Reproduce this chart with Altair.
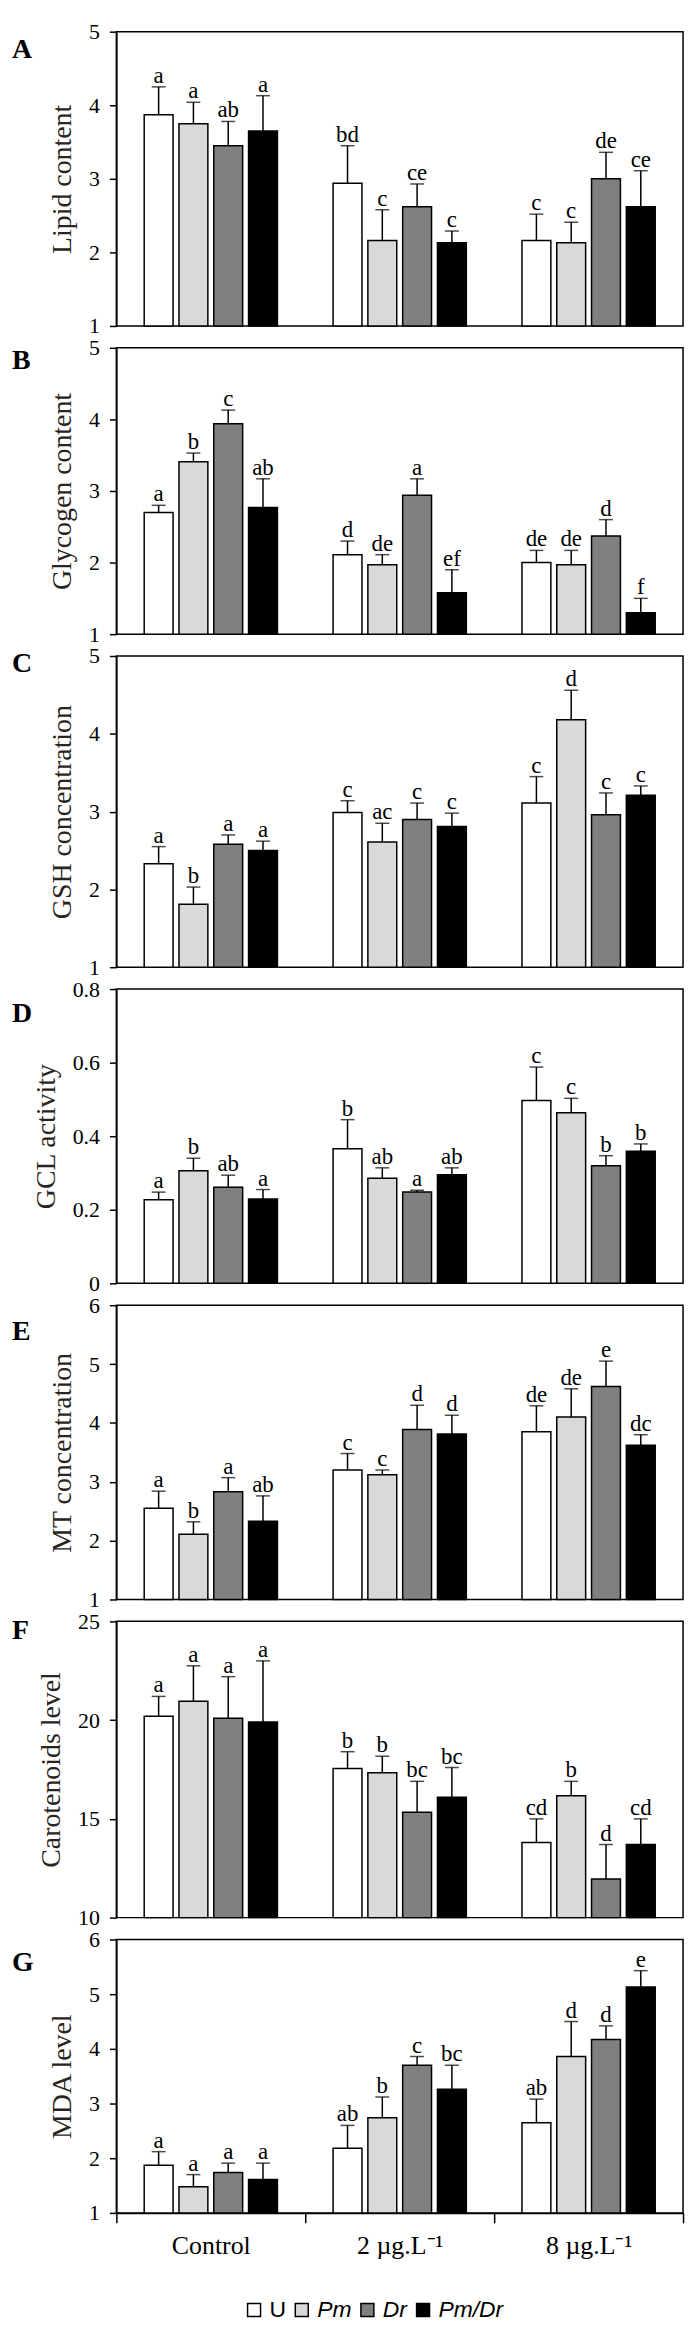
import altair as alt
import pandas as pd

groups = ["Control", "2 µg.L⁻¹", "8 µg.L⁻¹"]
series = ["U", "Pm", "Dr", "Pm/Dr"]
colors = ["#ffffff", "#d9d9d9", "#808080", "#000000"]

# values ordered: Control (U, Pm, Dr, Pm/Dr), 2 µg (…), 8 µg (…)
lipid_mean = [3.87, 3.75, 3.45, 3.65, 2.94, 2.16, 2.62, 2.13, 2.16, 2.13, 3.00, 2.62]
lipid_err = [0.38, 0.29, 0.33, 0.48, 0.51, 0.42, 0.31, 0.16, 0.36, 0.28, 0.36, 0.49]
lipid_lab = ["a", "a", "ab", "a", "bd", "c", "ce", "c", "c", "c", "de", "ce"]

glyco_mean = [2.70, 3.41, 3.94, 2.77, 2.11, 1.97, 2.94, 1.58, 2.00, 1.97, 2.37, 1.30]
glyco_err = [0.10, 0.12, 0.19, 0.40, 0.19, 0.14, 0.23, 0.32, 0.17, 0.20, 0.23, 0.20]
glyco_lab = ["a", "b", "c", "ab", "d", "de", "a", "ef", "de", "de", "d", "f"]

gsh_mean = [2.33, 1.81, 2.58, 2.50, 2.99, 2.61, 2.90, 2.81, 3.11, 4.18, 2.96, 3.21]
gsh_err = [0.22, 0.22, 0.12, 0.12, 0.15, 0.24, 0.21, 0.17, 0.34, 0.38, 0.28, 0.12]
gsh_lab = ["a", "b", "a", "a", "c", "ac", "c", "c", "c", "d", "c", "c"]

gcl_mean = [0.227, 0.306, 0.261, 0.229, 0.366, 0.286, 0.248, 0.295, 0.497, 0.464, 0.320, 0.359]
gcl_err = [0.021, 0.034, 0.033, 0.026, 0.079, 0.028, 0.005, 0.019, 0.091, 0.039, 0.027, 0.020]
gcl_lab = ["a", "b", "ab", "a", "b", "ab", "a", "ab", "c", "c", "b", "b"]

mt_mean = [2.55, 2.11, 2.83, 2.33, 3.20, 3.12, 3.89, 3.81, 3.85, 4.10, 4.62, 3.62]
mt_err = [0.29, 0.21, 0.24, 0.43, 0.28, 0.08, 0.41, 0.32, 0.44, 0.48, 0.43, 0.18]
mt_lab = ["a", "b", "a", "ab", "c", "c", "d", "d", "de", "de", "e", "dc"]

car_mean = [20.2, 20.95, 20.1, 19.9, 17.55, 17.33, 15.33, 16.1, 13.8, 16.17, 11.95, 13.7]
car_err = [1.0, 1.8, 2.1, 3.1, 0.85, 0.84, 1.57, 1.5, 1.2, 0.73, 1.75, 1.3]
car_lab = ["a", "a", "a", "a", "b", "b", "bc", "bc", "cd", "b", "d", "cd"]

mda_mean = [1.87, 1.48, 1.74, 1.61, 2.18, 2.74, 3.70, 3.26, 2.65, 3.86, 4.17, 5.13]
mda_err = [0.25, 0.22, 0.17, 0.30, 0.42, 0.38, 0.16, 0.44, 0.43, 0.64, 0.25, 0.30]
mda_lab = ["a", "a", "a", "a", "ab", "b", "c", "bc", "ab", "d", "d", "e"]

panels = [
    ("A", "Lipid content", lipid_mean, lipid_err, lipid_lab, [1, 5], [1, 2, 3, 4, 5], "d", 296, 18),
    ("B", "Glycogen content", glyco_mean, glyco_err, glyco_lab, [1, 5], [1, 2, 3, 4, 5], "d", 288, 13),
    ("C", "GSH concentration", gsh_mean, gsh_err, gsh_lab, [1, 5], [1, 2, 3, 4, 5], "d", 313, 8),
    ("D", "GCL activity", gcl_mean, gcl_err, gcl_lab, [0, 0.8], [0, 0.2, 0.4, 0.6, 0.8], "~g", 296, 25),
    ("E", "MT concentration", mt_mean, mt_err, mt_lab, [1, 6], [1, 2, 3, 4, 5, 6], "d", 296, 27),
    ("F", "Carotenoids  level", car_mean, car_err, car_lab, [10, 25], [10, 15, 20, 25], "d", 298, 10),
    ("G", "MDA level", mda_mean, mda_err, mda_lab, [1, 6], [1, 2, 3, 4, 5, 6], "d", 275, 24),
]

SERIF = "Liberation Serif"


def make_panel(letter, title, means, errs, labs, dom, ticks, fmt, h, ly, show_x):
    rows = []
    for gi, g in enumerate(groups):
        for si, s in enumerate(series):
            k = gi * 4 + si
            rows.append(dict(group=g, series=s, mean=means[k],
                             top=means[k] + errs[k], lab=labs[k]))
    df = pd.DataFrame(rows)

    xscale = alt.Scale(domain=groups, paddingInner=0, paddingOuter=0)
    xoscale = alt.Scale(domain=series, paddingInner=0.17, paddingOuter=0.8)
    yscale = alt.Scale(domain=dom, nice=False, zero=False)

    if show_x:
        xaxis = alt.Axis(title=None, labelAngle=0, tickBand="extent", tickSize=10,
                         labelFont=SERIF, labelFontSize=26, labelColor="black",
                         labelPadding=10, domainColor="black", domainWidth=1.5,
                         tickColor="black", tickWidth=1.5, grid=False)
    else:
        xaxis = None

    yaxis = alt.Axis(values=ticks, format=fmt, title=title, grid=False,
                     labelFont=SERIF, labelFontSize=22, labelColor="black",
                     labelPadding=10, tickSize=7, tickWidth=1.5, tickColor="black",
                     domainColor="black", domainWidth=1.5,
                     titleFont=SERIF, titleFontSize=28, titleFontWeight="normal",
                     titleColor="#2a2420", titlePadding=12)

    legend = alt.Legend(orient="none", legendX=127, legendY=2280, direction="horizontal",
                        title=None, symbolType="square", symbolSize=170,
                        symbolStrokeColor="black", symbolStrokeWidth=1.5,
                        labelFont="Liberation Sans", labelFontSize=23, labelColor="black",
                        labelOffset=4, columnPadding=4, padding=0,
                        labelFontStyle={"expr": "datum.label === 'U' ? 'normal' : 'italic'"})

    base = alt.Chart(df)
    xenc = alt.X("group:N", sort=groups, scale=xscale, axis=xaxis)
    xo = alt.XOffset("series:N", sort=series, scale=xoscale)

    bars = base.mark_bar(stroke="black", strokeWidth=1.5).encode(
        x=xenc, xOffset=xo,
        y=alt.Y("mean:Q", scale=yscale, axis=yaxis),
        y2=alt.datum(dom[0]),
        color=alt.Color("series:N", sort=series,
                        scale=alt.Scale(domain=series, range=colors), legend=legend),
    )
    rules = base.mark_rule(color="black", strokeWidth=1.5).encode(
        x=xenc, xOffset=xo,
        y=alt.Y("mean:Q", scale=yscale, axis=yaxis),
        y2="top:Q",
    )
    caps = base.mark_tick(color="black", thickness=1.5, size=14, orient="horizontal").encode(
        x=xenc, xOffset=xo,
        y=alt.Y("top:Q", scale=yscale, axis=yaxis),
    )
    texts = base.mark_text(font=SERIF, fontSize=23, baseline="alphabetic", dy=-4,
                           color="black").encode(
        x=xenc, xOffset=xo,
        y=alt.Y("top:Q", scale=yscale, axis=yaxis),
        text="lab:N",
    )
    tag = alt.Chart(pd.DataFrame({"t": [letter]})).mark_text(
        font=SERIF, fontWeight="bold", fontSize=28, align="left", baseline="middle",
        color="black").encode(x=alt.value(-105), y=alt.value(ly), text="t:N")

    return alt.layer(bars, rules, caps, texts, tag).properties(width=570, height=h)


charts = []
for i, p in enumerate(panels):
    charts.append(make_panel(*p, show_x=(i == len(panels) - 1)))

chart = alt.vconcat(*charts, spacing=22, bounds="flush").properties(
    padding={"left": 3, "top": 5, "right": 5, "bottom": 5}
).configure(background="white").configure_view(
    stroke="black", strokeWidth=1.5
).configure_axis(grid=False)

chart.save("out.html", embed_options={"renderer": "svg", "actions": False})
